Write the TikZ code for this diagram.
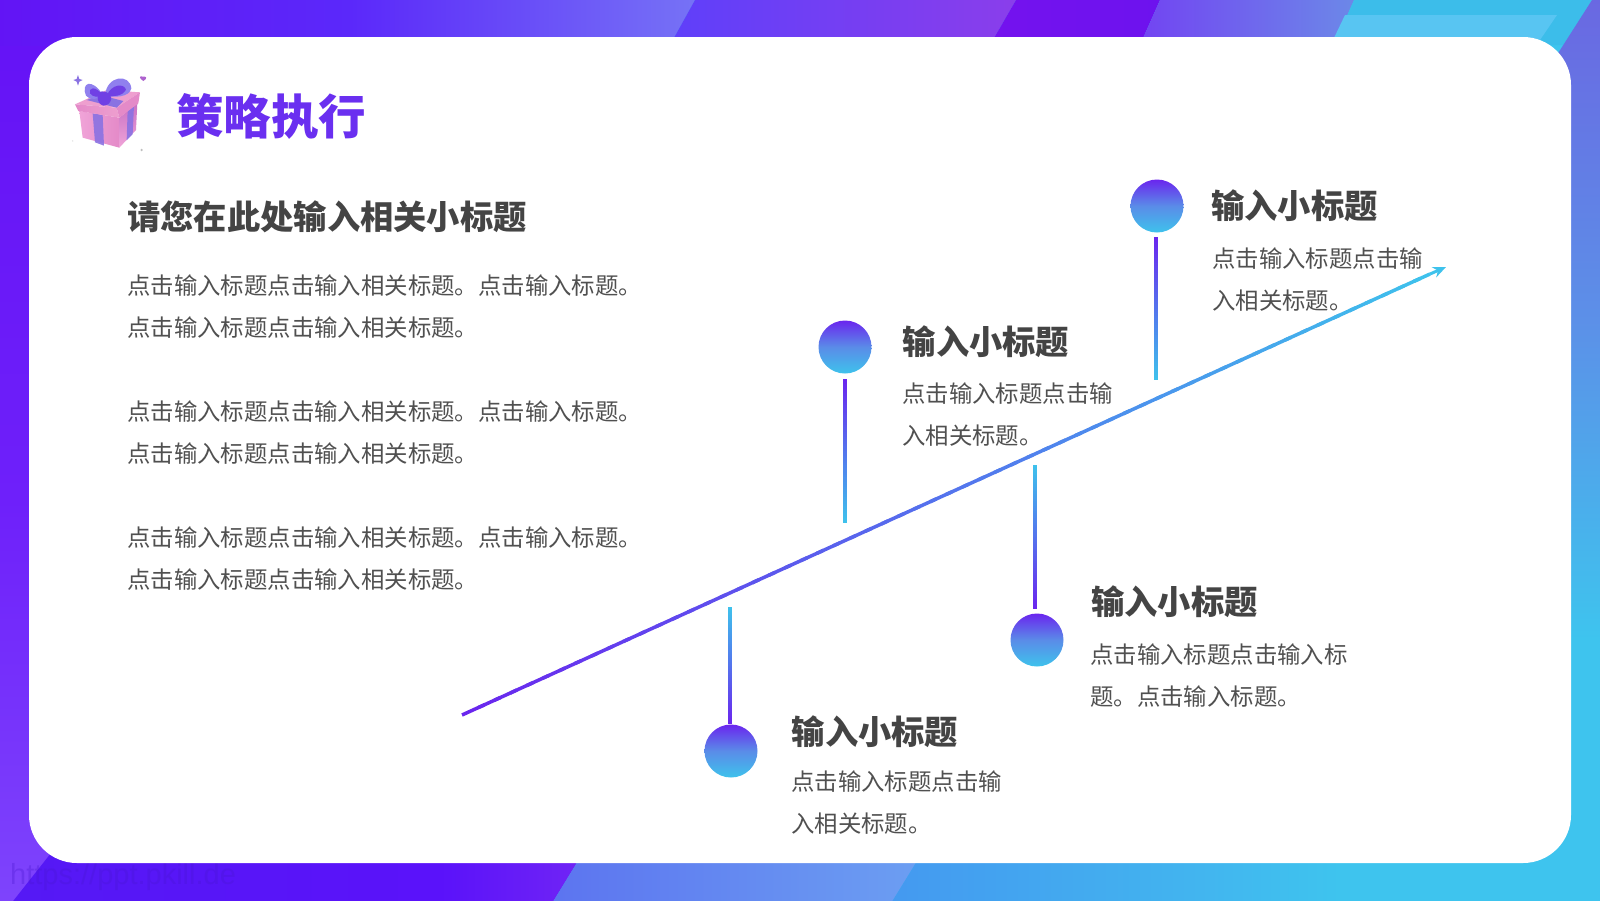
\documentclass[tikz,border=0pt]{standalone}
\usepackage{fontspec}
\setmainfont{Noto Sans CJK SC}
\setsansfont{Liberation Sans}
\newfontfamily\heavycjk{Noto Sans CJK SC Black}
\usetikzlibrary{arrows.meta,calc}
\definecolor{grpurple}{HTML}{6A25EE}
\definecolor{grmid}{HTML}{5A8CE8}
\definecolor{grcyan}{HTML}{3EC2EC}
\definecolor{inktext}{HTML}{444444}
\definecolor{inklight}{HTML}{505050}
\definecolor{titlecol}{HTML}{6A2FF0}
\definecolor{ta}{HTML}{6214F5}\definecolor{tb}{HTML}{5B28FA}\definecolor{tc}{HTML}{7672F6}
\definecolor{td}{HTML}{5F3FFA}\definecolor{te}{HTML}{8A3EEB}
\definecolor{tf}{HTML}{7412EE}\definecolor{tg}{HTML}{6D12EE}
\definecolor{th}{HTML}{7244F2}\definecolor{ti}{HTML}{6C88E8}
\definecolor{tj}{HTML}{3CBDEA}\definecolor{tk}{HTML}{58C5F2}
\definecolor{ra}{HTML}{6A68E2}\definecolor{rb}{HTML}{5C90E8}\definecolor{rc}{HTML}{3EC4EE}
\definecolor{la}{HTML}{6412F5}\definecolor{lb}{HTML}{6E20FA}\definecolor{lc}{HTML}{7E44FC}
\definecolor{ba}{HTML}{5519F5}\definecolor{bb}{HTML}{5A12FA}\definecolor{bc}{HTML}{7125F5}
\definecolor{bd}{HTML}{5C74F0}\definecolor{be}{HTML}{6C9FF2}
\definecolor{bf}{HTML}{4499F0}\definecolor{bg}{HTML}{42B5EF}
\definecolor{giftpink}{HTML}{F0A4D8}\definecolor{giftrose}{HTML}{E48AC8}
\definecolor{giftlid}{HTML}{EE9FCF}\definecolor{giftmauve}{HTML}{C870C4}
\definecolor{giftrib}{HTML}{8A72E2}\definecolor{giftbow}{HTML}{7040E4}\definecolor{giftbowl}{HTML}{9080EE}
\tikzset{
  x=1pt,y=-1pt,
  titletext/.style={anchor=west,inner sep=0pt,text=titlecol,font=\fontsize{47.5}{47.5}\selectfont\heavycjk},
  headtext/.style={anchor=west,inner sep=0pt,text=inktext,font=\fontsize{33.3}{33.3}\selectfont\bfseries},
  bodytext/.style={anchor=west,inner sep=0pt,align=left,text=inklight,font=\fontsize{23.4}{42}\selectfont},
  ball/.style={circle,minimum size=53pt,inner sep=0pt,top color=grpurple,bottom color=grcyan,middle color=grmid},
}
% gradient connector from coordinate #1 to coordinate #2, colours #3 to #4, width #5
\newcommand{\gradlink}[5]{%
  \foreach \gi in {1,...,60}{%
    \pgfmathsetmacro{\gp}{(\gi-0.5)/60*100}%
    \pgfmathsetmacro{\ga}{(\gi-1)/60}%
    \pgfmathsetmacro{\gb}{min(1,(\gi+0.4)/60)}%
    \draw[line width=#5,color=#4!\gp!#3] ($(#1)!\ga!(#2)$) -- ($(#1)!\gb!(#2)$);
  }}
\begin{document}
\begin{tikzpicture}
\useasboundingbox (0,0) rectangle (1600,900);
% ---- background bands
\begin{scope}
\clip (0,0) rectangle (1600,900);
\fill[rc] (-5,-5) rectangle (1605,905);
% left
\shade[top color=la,bottom color=lb] (-5,-5) rectangle (90,500);
\shade[top color=lb,bottom color=lc] (-5,500) rectangle (90,905);
% top
\shade[left color=ta,right color=tb] (-5,-5) rectangle (350,45);
\shade[left color=tb,right color=tc] (350,0) -- (695,0) -- (670,45) -- (350,45) -- cycle;
\shade[left color=td,right color=te] (695,0) -- (1016,0) -- (990,45) -- (670,45) -- cycle;
\shade[left color=tf,right color=tg] (1016,0) -- (1160,0) -- (1140,45) -- (990,45) -- cycle;
\shade[left color=th,right color=ti] (1160,0) -- (1354,0) -- (1334,45) -- (1140,45) -- cycle;
\fill[tj] (1354,0) -- (1605,0) -- (1605,45) -- (1334,45) -- cycle;
\fill[tk] (1345,15) -- (1557,15) -- (1540,40) -- (1333,40) -- cycle;
% right
\shade[top color=ra,bottom color=rc,middle color=rb] (1592,0) -- (1605,0) -- (1605,640) -- (1555,640) -- (1555,58) -- cycle;
% bottom
\shade[left color=ba,right color=bb] (10,905) -- (55,848) -- (440,848) -- (440,905) -- cycle;
\shade[left color=bb,right color=bc] (440,848) -- (586,848) -- (551,905) -- (440,905) -- cycle;
\shade[left color=bd,right color=be] (586,848) -- (925,848) -- (890,905) -- (551,905) -- cycle;
\shade[left color=bf,right color=bg] (925,848) -- (1200,848) -- (1200,905) -- (890,905) -- cycle;
\shade[left color=bg,right color=rc] (1200,848) rectangle (1340,905);
\end{scope}
% watermark
\node[inner sep=0pt,anchor=west,text=ba!85!black,opacity=0.3,font=\sffamily\fontsize{29}{29}\selectfont] (mark) at (10,877) {https://ppt.pkill.de};
% ---- card
\fill[white,rounded corners=48pt] (29,37) rectangle (1571,863);
% ---- gift icon
\begin{scope}[shift={(60,65)},scale=0.3333]
  \shade[left color=giftpink,right color=giftrose] (58,138) -- (178,158) -- (178,248) -- (68,218) -- cycle;
  \shade[top color=giftmauve,bottom color=giftpink] (178,158) -- (232,115) -- (228,195) -- (178,248) -- cycle;
  \fill[giftrib,opacity=.9] (98,145) -- (128,150) -- (132,242) -- (105,232) -- cycle;
  \fill[giftrib,opacity=.9] (203,135) -- (222,122) -- (218,208) -- (200,226) -- cycle;
  \fill[giftlid] (45,118) -- (140,75) -- (240,82) -- (170,128) -- cycle;
  \shade[left color=giftrose,right color=giftlid] (45,118) -- (170,128) -- (178,158) -- (55,138) -- cycle;
  \fill[giftrose] (170,128) -- (240,82) -- (235,115) -- (178,158) -- cycle;
  \fill[giftrib] (80,105) -- (120,90) -- (190,108) -- (170,128) -- cycle;
  \fill[giftbowl] (130,92) .. controls (95,35) and (62,55) .. (78,92) .. controls (90,108) and (115,102) .. (130,92) -- cycle;
  \fill[giftbow] (130,92) .. controls (105,60) and (85,68) .. (90,85) .. controls (100,98) and (115,97) .. (130,92) -- cycle;
  \fill[giftbowl] (135,92) .. controls (140,30) and (210,25) .. (214,70) .. controls (208,98) and (160,98) .. (135,92) -- cycle;
  \fill[giftbow] (140,92) .. controls (155,55) and (195,55) .. (198,75) .. controls (188,92) and (160,97) .. (140,92) -- cycle;
  \fill[giftbow] (135,80) .. controls (105,72) and (108,118) .. (130,122) .. controls (155,122) and (165,88) .. (135,80) -- cycle;
  \fill[giftrib] (40,45) -- (50,42) -- (54,30) -- (58,42) -- (68,45) -- (58,50) -- (54,62) -- (50,50) -- cycle;
  \fill[giftmauve!70!giftbow] (250,48) .. controls (236,40) and (238,30) .. (248,35) .. controls (258,32) and (265,40) .. (250,48) -- cycle;
  \fill[black!15] (38,228) circle[radius=2];
  \fill[black!25] (245,255) circle[radius=4];
\end{scope}
% ---- title and left text
\node[titletext] (title) at (176,116) {策略执行};
\node[headtext] (subhead) at (127,217) {请您在此处输入相关小标题};
\node[bodytext] (para1) at (127,307) {点击输入标题点击输入相关标题。点击输入标题。\\点击输入标题点击输入相关标题。};
\node[bodytext] (para2) at (127,433) {点击输入标题点击输入相关标题。点击输入标题。\\点击输入标题点击输入相关标题。};
\node[bodytext] (para3) at (127,559) {点击输入标题点击输入相关标题。点击输入标题。\\点击输入标题点击输入相关标题。};
% ---- main arrow
\coordinate (arrowstart) at (462,715);
\coordinate (arrowend) at (1430,274);
\coordinate (arrowtip) at (1446,267);
\gradlink{arrowstart}{arrowend}{grpurple}{grcyan}{3.5pt}
\draw[grcyan,line width=3pt,-{Stealth[length=13pt,width=11pt]}] (arrowend) -- (arrowtip);
% ---- balls
\node[ball] (b1) at (1157,206) {};
\node[ball] (b2) at (845,347) {};
\node[ball] (b3) at (1037,640) {};
\node[ball] (b4) at (731,751) {};
% ---- stems
\coordinate (s1a) at (1156,237); \coordinate (s1b) at (1156,380);
\coordinate (s2a) at (845,379);  \coordinate (s2b) at (845,523);
\coordinate (s3a) at (1035,465); \coordinate (s3b) at (1035,609);
\coordinate (s4a) at (730,607);  \coordinate (s4b) at (730,724);
\gradlink{s1a}{s1b}{grpurple}{grcyan}{3.5pt}
\gradlink{s2a}{s2b}{grpurple}{grcyan}{3.5pt}
\gradlink{s3a}{s3b}{grcyan}{grpurple}{3.5pt}
\gradlink{s4a}{s4b}{grcyan}{grpurple}{3.5pt}
% ---- labels
\node[headtext] (h1) at (1211,206) {输入小标题};
\node[bodytext] (t1) at (1212,280) {点击输入标题点击输\\入相关标题。};
\node[headtext] (h2) at (902.5,342) {输入小标题};
\node[bodytext] (t2) at (902,415) {点击输入标题点击输\\入相关标题。};
\node[headtext] (h3) at (1091,602) {输入小标题};
\node[bodytext] (t3) at (1090,676) {点击输入标题点击输入标\\题。点击输入标题。};
\node[headtext] (h4) at (791.5,732) {输入小标题};
\node[bodytext] (t4) at (791,802.5) {点击输入标题点击输\\入相关标题。};
\end{tikzpicture}
\end{document}
